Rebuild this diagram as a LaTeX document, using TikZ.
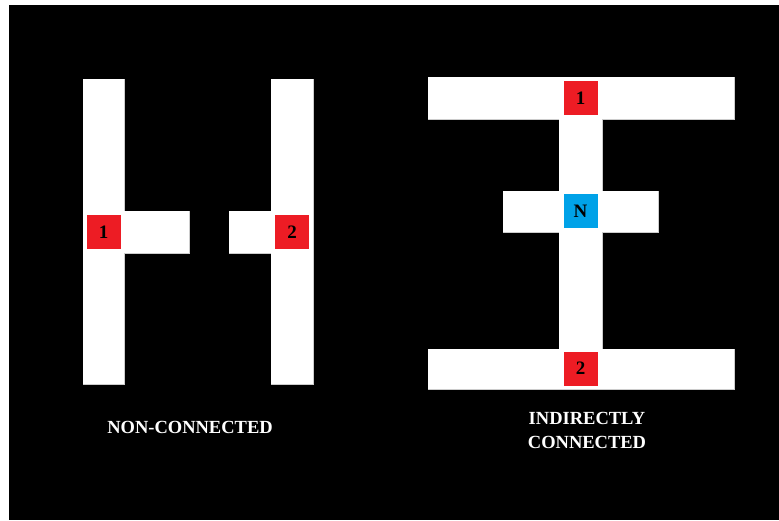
\documentclass[tikz,border=0pt]{standalone}
\usepackage{fontspec}
\setmainfont{Liberation Serif}
\usepackage{xcolor}
\usetikzlibrary{positioning}
\definecolor{markred}{RGB}{237,28,36}
\definecolor{markblue}{RGB}{0,162,232}

\tikzset{
  baredge/.style={draw=gray!40, line width=0.8pt},
  bar/.style={fill=white},
  marker/.style={fill=markred, minimum width=34pt, minimum height=34pt, inner sep=0pt,
    font=\fontsize{19}{20}\selectfont\bfseries, text=black},
  caption/.style={text=white, font=\fontsize{18.5}{24}\selectfont\bfseries, align=center}
}

\begin{document}
\begin{tikzpicture}[x=1pt, y=-1pt]
  % canvas
  \useasboundingbox (0,0) rectangle (779,520);
  \fill[black] (9,5) rectangle (779,520);

  % bars: left pair (non-connected), right group (indirectly connected)
  % first a thin outline, then the white fill on top so joints merge
  \foreach \st in {baredge,bar}
    \foreach \xa/\ya/\xb/\yb in {83/79/124/384, 83/211/189/253,
                                 271/79/313/384, 229/211/271/253,
                                 559/110/602/355, 428/77/734/119,
                                 503/191/658/232, 428/349/734/389}
      \path[\st] (\xa,\ya) rectangle (\xb,\yb);

  % markers
  \node[marker] (a1) at (103.5,232) {1};
  \node[marker] (a2) at (292,232) {2};

  \node[marker] (b1) at (580.5,98) {1};
  \node[marker, fill=markblue] (bn) at (580.5,211) {N};
  \node[marker] (b2) at (580.5,368.5) {2};

  % Captions
  \node[caption] (capa) at (190,427) {NON-CONNECTED};
  \node[caption] (capb) at (587,430) {INDIRECTLY\\CONNECTED};
\end{tikzpicture}
\end{document}
